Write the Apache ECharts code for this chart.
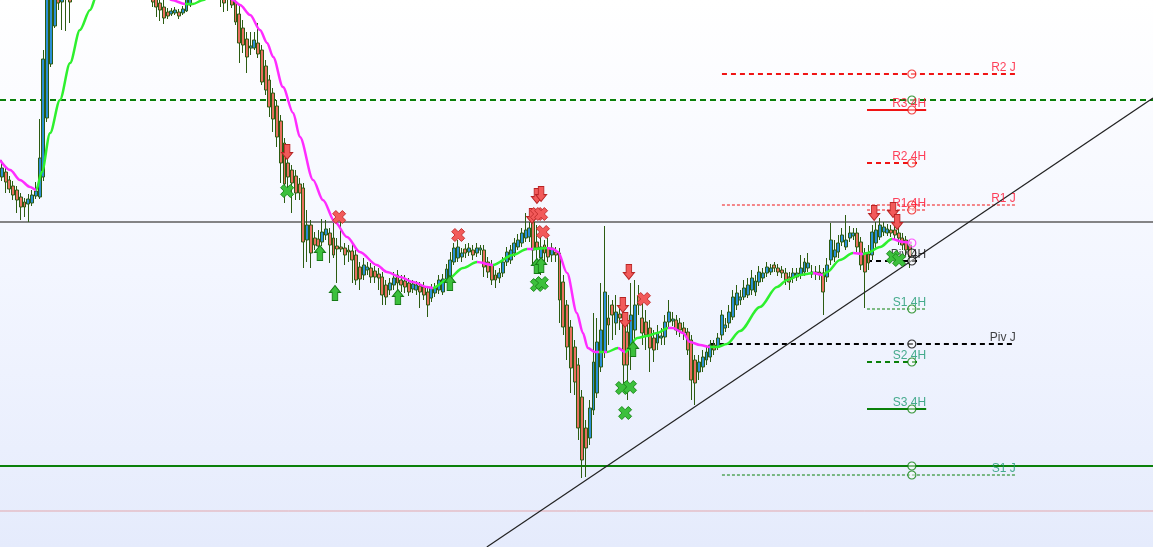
<!DOCTYPE html>
<html><head><meta charset="utf-8">
<script src="https://cdn.jsdelivr.net/npm/echarts@6/dist/echarts.min.js"></script>
<style>
html,body{margin:0;padding:0;}
body{width:1153px;height:547px;overflow:hidden;background:linear-gradient(to bottom,#ffffff 0%,#f3f6ff 50%,#e5ebfc 100%);}
#c{width:1153px;height:547px;}
</style></head>
<body><div id="c"></div>
<script>
// ---- DATA (price units; candles are [open, close, low, high]) ----
const slotCount = 306; // time slots on the x axis (candles + empty future)
const candles = [
[370,379,366,387],[375,365,354,379],[367,358,354,371],[361,352,347,366],[357,347,334,361],
[350,340,327,354],[345,340,330,349],[343,348,325,353],[344,352,341,357],[351,356,348,365],
[350,389,348,428],[370,488,366,497],[429,577,425,597],[483,587,480,607],[521,567,519,597],
[557,544,537,577],[545,562,517,582],[557,572,516,592],[567,545,524,587],[572,582,555,597],
[582,592,567,607],[592,587,575,605],[587,602,577,617],[602,607,589,622],[607,597,587,619],
[597,612,585,627],[612,619,599,635],[619,609,597,632],[609,622,595,637],[622,627,607,642],
[627,617,605,639],[617,613,599,632],[613,602,592,627],[602,607,587,622],[607,593,582,617],
[593,587,577,612],[587,577,567,602],[577,583,562,597],[583,569,557,595],[569,559,550,587],
[552,545,540,562],[555,540,530,567],[544,537,526,552],[540,529,523,547],[535,531,528,539],
[533,536,531,539],[534,537,532,540],[535,531,528,538],[534,538,532,541],[536,549,535,555],
[542,555,540,562],[555,562,549,575],[562,569,553,582],[569,565,555,583],[565,575,557,587],
[575,567,559,589],[567,573,557,585],[573,563,553,583],[563,552,540,572],[552,544,535,562],
[557,550,536,567],[555,542,539,562],[545,525,522,552],[533,504,484,542],[519,502,494,527],
[508,490,474,515],[499,501,492,515],[499,507,497,515],[504,493,489,524],[497,465,462,502],
[481,457,452,487],[467,440,430,472],[454,428,415,459],[441,410,400,447],[426,384,364,432],
[404,363,344,409],[384,370,357,389],[377,364,334,382],[371,354,347,377],[363,354,347,369],
[359,305,279,364],[307,322,285,337],[322,294,279,327],[309,302,297,315],[308,301,292,317],
[305,315,301,328],[312,318,307,327],[314,302,284,319],[309,292,289,324],[301,298,264,309],
[300,298,295,325],[299,292,282,304],[297,295,285,302],[296,287,264,302],[292,267,262,297],
[280,268,257,285],[272,282,267,289],[277,280,272,285],[279,270,264,284],[276,270,264,281],
[273,269,257,279],[270,252,242,275],[262,250,242,267],[257,264,252,269],[262,269,257,275],
[272,264,257,277],[267,262,255,272],[266,260,254,272],[264,255,251,269],[258,263,254,267],
[257,262,252,266],[261,255,239,265],[260,252,247,265],[255,242,230,260],[249,259,245,263],
[254,259,250,264],[257,267,253,272],[255,268,252,273],[268,278,264,283],[270,287,267,295],
[285,299,282,304],[289,300,285,307],[290,294,285,299],[298,294,289,303],[295,299,291,304],
[297,292,287,302],[294,299,290,304],[297,299,292,302],[297,280,270,302],[285,275,269,290],
[282,267,262,287],[272,267,259,277],[269,274,264,279],[274,285,270,290],[285,295,281,300],
[287,297,283,302],[294,304,290,309],[300,307,297,313],[304,314,300,319],[309,317,305,334],
[310,319,305,325],[325,297,282,334],[305,299,277,322],[289,300,272,319],[302,294,285,307],
[299,290,285,309],[292,299,285,304],[295,292,285,300],[294,247,224,299],[265,220,212,272],
[242,200,187,247],[220,179,154,227],[200,165,152,207],[182,119,107,189],[150,87,69,157],
[119,99,70,127],[109,139,102,147],[137,185,132,234],[154,205,149,229],[180,217,175,264],
[195,255,189,321],[229,222,202,252],[242,232,207,247],[224,235,212,252],[233,229,217,242],
[227,182,155,239],[215,182,147,229],[197,232,177,264],[217,242,207,267],[251,242,232,262],
[229,214,202,247],[225,212,197,237],[219,199,175,227],[209,197,185,217],[204,214,197,222],
[209,211,202,219],[210,225,202,232],[225,235,219,247],[226,228,221,235],[227,217,212,232],
[224,217,210,229],[219,214,207,225],[215,197,192,219],[207,167,147,212],[187,164,142,192],
[175,185,167,192],[180,190,175,197],[187,195,182,202],[190,202,185,207],[202,197,192,207],
[200,209,197,214],[212,232,207,237],[219,222,215,229],[224,235,219,242],[230,250,227,257],
[242,254,237,262],[247,250,242,257],[250,259,247,267],[252,262,249,269],[257,269,252,277],
[255,266,251,272],[265,275,261,281],[269,274,265,279],[274,280,270,285],[275,279,272,283],
[282,279,275,285],[279,275,271,283],[277,274,269,281],[274,267,262,279],[270,265,257,275],
[269,274,264,279],[270,274,266,279],[272,279,268,292],[275,285,271,289],[279,284,275,294],
[273,275,269,282],[275,273,267,281],[275,272,267,282],[274,255,232,279],[270,282,265,289],
[287,307,282,324],[290,297,285,307],[295,304,289,312],[305,312,301,319],[300,307,297,332],
[309,314,305,321],[311,314,307,319],[314,300,295,319],[305,282,277,310],[294,275,239,299],
[293,284,277,302],[292,315,287,322],[304,317,299,325],[310,322,307,329],[315,320,311,325],
[314,318,311,323],[317,314,310,322],[317,312,307,321],[314,309,302,319],[309,302,297,314],
[307,297,292,311],[302,290,279,307]
];

// moving average trace: [slot, price]
const maPoints = [[-0.5,387],[2.2,377],[4.8,367],[7.5,360],[9.1,357],[10.6,375],[12.8,414],[15.4,447],[18.1,484],[20.7,517],[23.4,537],[25.2,552],[28.7,577],[32.7,592],[36.7,592],[40.6,572],[45.1,547],[48.6,543],[50.7,543],[53.4,547],[56.6,555],[59.0,557],[61.3,547],[63.2,542],[65.9,532],[68.5,517],[70.4,504],[72.0,490],[74.6,460],[77.3,434],[79.1,410],[82.6,367],[85.2,347],[88.4,325],[91.6,310],[95.0,295],[99.5,282],[102.2,275],[105.7,270],[109.1,265],[112.8,260],[114.4,259],[118.1,267],[122.4,279],[126.1,285],[130.3,282],[135.6,292],[139.4,298],[141.0,298],[144.7,299],[146.3,298],[147.6,295],[150.0,274],[152.6,234],[154.2,214],[155.5,199],[157.4,195],[158.5,195],[159.8,195],[160.6,195],[163.5,199],[165.4,195],[168.6,209],[171.2,211],[173.9,214],[176.8,219],[178.1,219],[180.8,214],[182.6,205],[185.3,202],[187.9,200],[189.8,200],[192.4,203],[195.9,216],[201.2,240],[205.7,260],[208.4,267],[211.8,272],[215.3,274],[217.9,272],[219.0,275],[222.4,287],[225.9,294],[228.5,293],[229.6,294],[233.1,300],[236.2,308],[239.2,305],[241.5,304]];
// slots where the average changes direction (alternating: up, down, up, ...)
const maTurns = [9.1,36.7,48.6,59.0,114.4,126.1,130.3,139.4,141.0,144.7,158.5,159.8,160.6,163.5,165.4,176.8,187.9,215.3,217.9,225.9,228.5,236.2];

// pivot levels
const levelLabels = ['R2 J','R1 J','Piv J','S1 J','R3 4H','R2 4H','R1 4H','Piv 4H','S1 4H','S2 4H','S3 4H'];
const levelValues = [473,342,203,72,437,384,337,286,238,185,138];
const levelFrom   = [191.1,191.1,187.9,191.1,229.6,229.6,229.6,229.6,229.6,229.6,229.6];
const levelTo     = [269.1,269.1,269.1,269.1,245.3,243.9,245.3,243.9,245.3,243.9,245.3];
const levelMarkSlot = 241.5;
const extraMarks = [[241.5,447,'S'],[241.5,81,'S'],[241.5,294,'P']];
// full width lines
const wideGreenDashed = 447, wideGray = 325, wideGreen = 81, widePink = 36;
// trend line
const trendPoints = [[128.7,0],[305.5,449]];

// signals
const sellArrows = [[75.7,395],[142.0,351],[143.1,353],[140.7,331],[166.4,275],[164.8,242],[165.4,227],[231.5,334],[236.5,337],[237.6,325]];
const sellCrosses = [[89.5,330],[121.1,312],[142.0,333],[143.1,333],[143.6,315],[170.4,248]];
const buyArrows = [[84.4,294],[88.4,254],[105.1,250],[118.9,264],[142.0,281],[143.1,282],[167.5,198]];
const buyCrosses = [[75.7,356],[142.0,262],[143.3,264],[164.6,159],[166.7,160],[165.4,134],[236.5,290],[238.1,287]];

// ---- STYLE / BUILD ----
const RED='#f01414', GREEN='#0a800a', BLACK='#000000';
const TXT = {R:'#ff1030', S:'#1a9870', P:'#111111'};
const LINE = {R:RED, S:GREEN, P:BLACK};
const levelStyle = {'R2 J':['dashed',2],'R1 J':['thin',1],'Piv J':['dashed',2],'S1 J':['thin',1],'R3 4H':['solid',2],'R2 4H':['dashed',2],'R1 4H':['thin',1],'Piv 4H':['dashed',2],'S1 4H':['thin',1],'S2 4H':['dashed',2],'S3 4H':['solid',2]};
const kindOf = n => n.startsWith('R') ? 'R' : (n.startsWith('S') ? 'S' : 'P');
const dashType = t => t==='solid' ? 'solid' : (t==='thin' ? [3,2] : [5,4]);

const categories = [];
for (let i = 0; i < slotCount; i++) categories.push(String(i));

const series = [];
function hline(data, color, width, type, z) {
  series.push({type:'line', xAxisIndex:1, yAxisIndex:0, data, symbol:'none', silent:true, z:z||2,
    lineStyle:{color, width, type}, animation:false});
}
hline([[-0.5,widePink],[305.5,widePink]], '#e3a7ad', 1, 'solid');
hline([[-0.5,wideGreenDashed],[305.5,wideGreenDashed]], GREEN, 2, [6,4]);
hline([[-0.5,wideGray],[305.5,wideGray]], '#5e5e5e', 1.5, 'solid');
hline([[-0.5,wideGreen],[305.5,wideGreen]], GREEN, 2, 'solid');
levelLabels.forEach((n, i) => {
  const st = levelStyle[n];
  hline([[levelFrom[i], levelValues[i]],[levelTo[i], levelValues[i]]], LINE[kindOf(n)], st[1], dashType(st[0]));
});

series.push({
  type:'candlestick', xAxisIndex:0, yAxisIndex:0, data:candles, barWidth:3.4, z:3,
  itemStyle:{color:'#2a8fd4', color0:'#e8705f', borderColor:'#2c5c12', borderColor0:'#2c5c12', borderWidth:1},
  animation:false
});

hline(trendPoints, '#222222', 1.2, 'solid', 4);

const maIndex = series.length;
series.push({type:'line', xAxisIndex:1, yAxisIndex:0, data:maPoints, symbol:'none', smooth:0.3, smoothMonotone:'x',
  lineStyle:{width:2.5}, z:5, animation:false});

const pieces = [];
const MAG='#ff2cff', LIME='#2ef02e';
for (let k = 0; k <= maTurns.length; k++) {
  const p = {color: k % 2 === 0 ? MAG : LIME};
  if (k > 0) p.gte = maTurns[k-1];
  if (k < maTurns.length) p.lt = maTurns[k];
  pieces.push(p);
}

// circles on levels
const circleData = levelLabels.map((n, i) => ({value:[levelMarkSlot, levelValues[i]], itemStyle:{borderColor:LINE[kindOf(n)]}}));
extraMarks.forEach(m => circleData.push({value:[m[0], m[1]], itemStyle:{borderColor:LINE[m[2]]}}));
const lastMa = maPoints[maPoints.length-1];
circleData.push({value:[lastMa[0], lastMa[1]], itemStyle:{borderColor:MAG}});
series.push({type:'scatter', xAxisIndex:1, yAxisIndex:0, data:circleData, symbol:'circle', symbolSize:8, z:7,
  itemStyle:{color:'rgba(255,255,255,0.6)', borderWidth:1.2}, animation:false});

// labels
series.push({type:'scatter', xAxisIndex:1, yAxisIndex:0, symbolSize:0, z:8, animation:false,
  data: levelLabels.map((n, i) => ({value:[levelTo[i] > 260 ? levelTo[i] : 245.3, levelValues[i]], name:n,
    label:{color:TXT[kindOf(n)]}})),
  label:{show:true, position:'top', distance:0, align:'right', formatter: p => p.name,
    fontFamily:'Liberation Sans, Arial, sans-serif', fontSize:12}
});

const ARROW_DOWN='path://M2.5,0L7.5,0L7.5,7L10,7L5,13L0,7L2.5,7Z';
const ARROW_UP='path://M5,0L10,6L7.5,6L7.5,13L2.5,13L2.5,6L0,6Z';
const CROSS='path://M0,3L3,0L6,3L9,0L12,3L9,6L12,9L9,12L6,9L3,12L0,9L3,6Z';
function marks(data, symbol, size, fill, border) {
  series.push({type:'scatter', xAxisIndex:1, yAxisIndex:0, data, symbol, symbolSize:size, z:9,
    itemStyle:{color:fill, borderColor:border, borderWidth:1, opacity:1}, animation:false});
}
marks(sellArrows, ARROW_DOWN, [11,15], '#f25a5a', '#b82424');
marks(sellCrosses, CROSS, [13,13], '#f25a5a', '#c43030');
marks(buyArrows, ARROW_UP, [11,15], '#3cc03c', '#157a15');
marks(buyCrosses, CROSS, [13,13], '#3cc03c', '#1c8a1c');

const chart = echarts.init(document.getElementById('c'), null, {renderer:'canvas'});
chart.setOption({
  backgroundColor:'transparent',
  animation:false,
  grid:{left:0, right:0, top:0, bottom:0, containLabel:false},
  xAxis:[
    {type:'category', data:categories, boundaryGap:true, show:false},
    {type:'value', min:-0.5, max:305.5, show:false}
  ],
  yAxis:[{type:'value', min:0, max:547, show:false}],
  visualMap:{type:'piecewise', show:false, dimension:0, seriesIndex:maIndex, pieces},
  series
});
</script>
</body></html>
